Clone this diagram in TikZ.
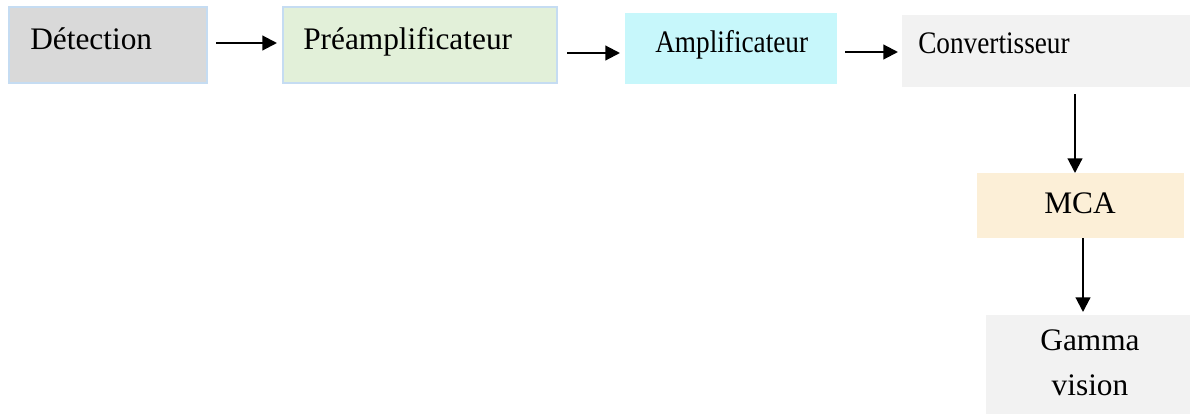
\documentclass[tikz,border=0pt]{standalone}
\usepackage{fontspec}
\setmainfont{Liberation Serif}
\usetikzlibrary{arrows.meta}
\definecolor{detfill}{HTML}{D9D9D9}
\definecolor{prefill}{HTML}{E2F0D9}
\definecolor{ampfill}{HTML}{C7F7FB}
\definecolor{grayfill}{HTML}{F2F2F2}
\definecolor{mcafill}{HTML}{FCEFD7}
\definecolor{bordblue}{HTML}{C5DCF2}
\tikzset{
  box/.style={rectangle, anchor=north west, inner sep=0pt, outer sep=0pt},
  lbl/.style={anchor=base west, inner sep=0pt, font=\fontsize{23.5}{34}\selectfont},
  arr/.style={-{Triangle[length=11pt,width=11pt]}, line width=1.6pt, black}
}
\begin{document}
\begin{tikzpicture}[x=0.75pt,y=-0.75pt]
\useasboundingbox (0,0) rectangle (1190,414);
% boxes
\node[box, fill=detfill, draw=bordblue, line width=1.2pt, minimum width=198*0.75pt, minimum height=76*0.75pt] (det) at (9,7) {};
\node[box, fill=prefill, draw=bordblue, line width=1.2pt, minimum width=274*0.75pt, minimum height=76*0.75pt] (pre) at (283,7) {};
\node[box, fill=ampfill, minimum width=212*0.75pt, minimum height=71*0.75pt] (amp) at (625,13) {};
\node[box, fill=grayfill, minimum width=288*0.75pt, minimum height=72*0.75pt] (conv) at (902,15) {};
\node[box, fill=mcafill, minimum width=207*0.75pt, minimum height=65*0.75pt] (mca) at (977,173) {};
\node[box, fill=grayfill, minimum width=204*0.75pt, minimum height=99*0.75pt] (gam) at (986,315) {};
% labels
\node[lbl] (tdet) at (30,49) {Détection};
\node[lbl] (tpre) at (303,49) {Préamplificateur};
\node[lbl] (tamp) at (655,52) {\scalebox{0.87}[1]{Amplificateur}};
\node[lbl] (tconv) at (918,53) {\scalebox{0.87}[1]{Convertisseur}};
\node[lbl, anchor=base] (tmca) at (1080,213) {MCA};
\node[lbl, anchor=base, align=center] (tgam) at (1090,395) {Gamma\\[-0.3pt]vision};
% arrow coordinates
\coordinate (a1s) at (216,43); \coordinate (a1e) at (277,43);
\coordinate (a2s) at (567,53); \coordinate (a2e) at (620,53);
\coordinate (a3s) at (845,52); \coordinate (a3e) at (898,52);
\coordinate (a4s) at (1075,94); \coordinate (a4e) at (1075,173);
\coordinate (a5s) at (1083,238); \coordinate (a5e) at (1083,312);
\draw[arr] (a1s) -- (a1e);
\draw[arr] (a2s) -- (a2e);
\draw[arr] (a3s) -- (a3e);
\draw[arr] (a4s) -- (a4e);
\draw[arr] (a5s) -- (a5e);
\end{tikzpicture}
\end{document}
